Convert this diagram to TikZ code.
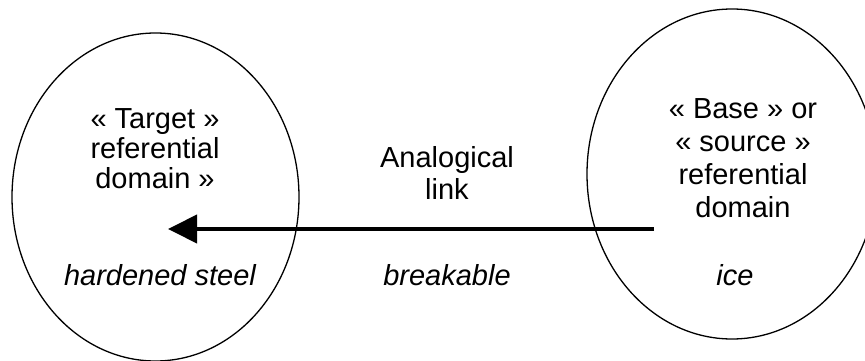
\documentclass[tikz,border=0pt]{standalone}
\usepackage{fontspec}
\setmainfont{Liberation Sans}
\usetikzlibrary{shapes.geometric,arrows.meta}
\tikzset{
  domainbox/.style={ellipse, draw, line width=1.3pt, inner sep=0pt},
  lbl/.style={align=center, inner sep=0pt, font=\fontsize{29}{30}\selectfont, anchor=base},
  lblr/.style={lbl, font=\fontsize{29}{33}\selectfont},
  ex/.style={inner sep=0pt, font=\fontsize{29}{30}\selectfont\itshape, anchor=base},
  linkarrow/.style={line width=4pt, -{Triangle[length=29pt, width=28pt]}}
}
\begin{document}
\begin{tikzpicture}[x=1pt, y=-1pt]
\useasboundingbox (0,0) rectangle (865,361);
\node[domainbox, minimum width=287pt, minimum height=328pt] (tgt) at (155.5,197) {};
\node[domainbox, minimum width=290pt, minimum height=330pt] (src) at (732,174) {};
% base anchor of a multi-line node = baseline of its last line
\node[lbl] (tgttxt) at (155,188) {« Target »\\referential\\domain »};
\node[lblr] (srctxt) at (743,217) {« Base » or\\« source »\\referential\\domain};
\node[lbl, font=\fontsize{29}{32}\selectfont] (linktxt) at (447,199) {Analogical\\link};
\node[ex] (tgtex) at (160,285) {hardened steel};
\node[ex] (linkex) at (447,285) {breakable};
\node[ex] (srcex) at (735,285) {ice};
\coordinate (from) at (654,229);
\coordinate (to) at (168,229);
\draw[linkarrow] (from) -- (to);
\end{tikzpicture}
\end{document}
